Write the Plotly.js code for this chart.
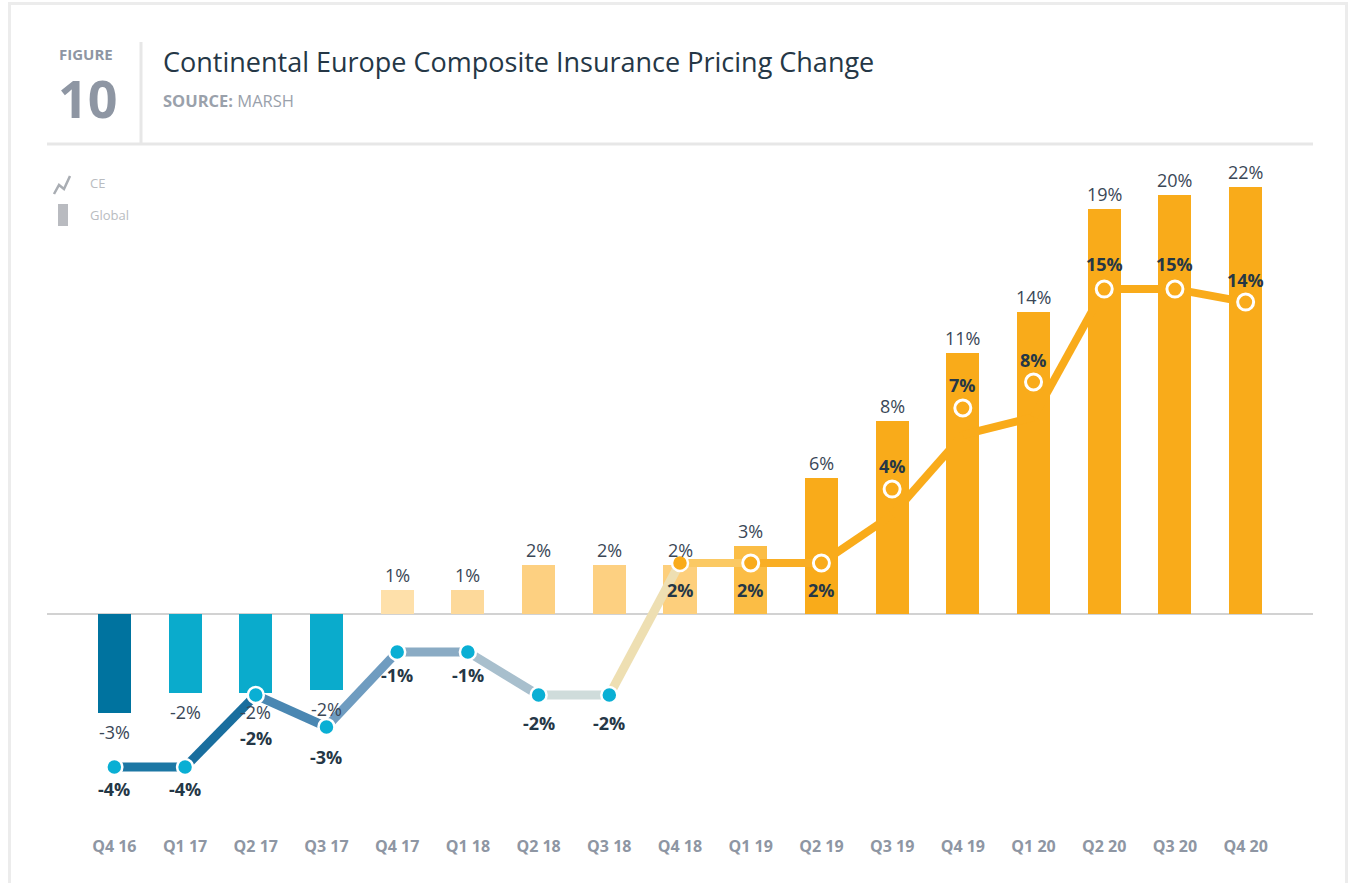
<!DOCTYPE html>
<html>
<head>
<meta charset="utf-8">
<script src="https://cdn.plot.ly/plotly-3.0.1.min.js"></script>
<style>
  html, body { margin: 0; padding: 0; background: #ffffff; }
  #frame { position: absolute; left: 8px; top: 2px; width: 1340px; height: 900px; border: 3px solid #ececec; box-sizing: border-box; }
  #chart { position: absolute; left: 0; top: 0; width: 1351px; height: 883px; }
</style>
</head>
<body>
<div id="frame"></div>
<div id="chart"></div>
<script>
// ---------------- data ----------------
const categories = ['Q4 16','Q1 17','Q2 17','Q3 17','Q4 17','Q1 18','Q2 18','Q3 18','Q4 18','Q1 19','Q2 19','Q3 19','Q4 19','Q1 20','Q2 20','Q3 20','Q4 20'];

// Global bars (heights as drawn) and their printed labels
const globalValues = [-5.10, -4.07, -4.07, -3.92, 1.24, 1.24, 2.53, 2.53, 2.53, 3.51, 7.01, 9.95, 13.45, 15.57, 20.88, 21.60, 22.01];
const globalLabels = ['-3%','-2%','-2%','-2%','1%','1%','2%','2%','2%','3%','6%','8%','11%','14%','19%','20%','22%'];

// CE line (as drawn), CE markers (as drawn) and their printed labels
const ceLineValues   = [-7.89, -7.89, -4.18, -5.82, -1.96, -1.96, -4.18, -4.18, 2.63, 2.63, 2.63, 5.10, 9.23, 10.15, 16.75, 16.75, 16.08];
const ceMarkerValues = [-7.89, -7.89, -4.18, -5.82, -1.96, -1.96, -4.18, -4.18, 2.63, 2.63, 2.63, 6.44, 10.62, 11.96, 16.75, 16.75, 16.08];
const ceLabels = ['-4%','-4%','-2%','-3%','-1%','-1%','-2%','-2%','2%','2%','2%','4%','7%','8%','15%','15%','14%'];

// ---------------- styles ----------------
const FONT = '"Open Sans", "Noto Sans", sans-serif';
const barColors = ['#00739f','#0aabcc','#0aabcc','#0aabcc','#fee0aa','#fdd99a','#fdd081','#fdd081','#fdcf7c','#fbbd45',
                   '#f9ab1a','#f9ab1a','#f9ab1a','#f9ab1a','#f9ab1a','#f9ab1a','#f9ab1a'];
const segColors = ['#1c77a4','#196e9e','#4a87b2','#6f9cc0','#8aabc4','#a8bfcd','#cfdcdb','#eedfb2','#fbc963',
                   '#f9ae24','#f9ab1a','#f9ab1a','#f9ab1a','#f9ab1a','#f9ab1a','#f9ab1a'];
// label centre offsets (px, positive = below the marker)
const ceLabelOffset = [22,22,43,30,23,23,28,28,27,27,27,-23,-23,-22,-25,-25,-22];

// ---------------- geometry helpers ----------------
const W = 1351, H = 883;
const M = {l: 79, r: 70, t: 150, b: 53};
const PW = W - M.l - M.r, PH = H - M.t - M.b;
const px = x => (x - M.l) / PW;
const py = y => (H - M.b - y) / PH;
const yMin = -11.134, yMax = 23.918;

// ---------------- traces ----------------
const traces = [];
traces.push({
  type: 'bar', x: categories, y: globalValues, width: 0.467,
  marker: {color: barColors, line: {width: 0}},
  hoverinfo: 'skip', showlegend: false
});
for (let i = 0; i < categories.length - 1; i++) {
  traces.push({
    type: 'scatter', mode: 'lines',
    x: [categories[i], categories[i + 1]],
    y: [ceLineValues[i], ceLineValues[i + 1]],
    line: {color: segColors[i], width: i < 8 ? 9 : 8},
    hoverinfo: 'skip', showlegend: false
  });
}
traces.push({
  type: 'scatter', mode: 'markers', x: categories, y: ceMarkerValues,
  marker: {
    color: ceMarkerValues.map((v, i) => i < 8 ? '#0aafd4' : '#f9ab1a'),
    size: 16,
    line: {color: '#ffffff', width: ceMarkerValues.map((v, i) => i < 9 ? 2.5 : 3)}
  },
  hoverinfo: 'skip', showlegend: false
});

// ---------------- annotations ----------------
const ann = [];
globalValues.forEach((v, i) => {
  ann.push({x: categories[i], y: v, xref: 'x', yref: 'y', text: globalLabels[i], showarrow: false,
    yanchor: 'middle', yshift: v >= 0 ? 15 : -19,
    font: {family: FONT, size: 18, color: '#3a4757'}});
});
ceMarkerValues.forEach((v, i) => {
  ann.push({x: categories[i], y: v, xref: 'x', yref: 'y', text: ceLabels[i], showarrow: false,
    yanchor: 'middle', yshift: -ceLabelOffset[i],
    font: {family: FONT, size: 18, color: '#253746', weight: 'bold'}});
});
// header texts
ann.push({xref: 'paper', yref: 'paper', x: px(86), y: py(54), xanchor: 'center', yanchor: 'middle', showarrow: false,
  text: 'FIGURE', font: {family: FONT, size: 15, color: '#8e96a3', weight: 'bold'}});
ann.push({xref: 'paper', yref: 'paper', x: px(87), y: py(97), xanchor: 'center', yanchor: 'middle', showarrow: false,
  text: '10', font: {family: FONT, size: 52, color: '#8e96a3', weight: 'bold'}});
ann.push({xref: 'paper', yref: 'paper', x: px(161), y: py(61), xanchor: 'left', yanchor: 'middle', showarrow: false,
  text: 'Continental Europe Composite Insurance Pricing Change', font: {family: FONT, size: 27, color: '#253746'}});
ann.push({xref: 'paper', yref: 'paper', x: px(161), y: py(100), xanchor: 'left', yanchor: 'middle', showarrow: false,
  text: '<b>SOURCE:</b> MARSH', font: {family: FONT, size: 16.5, color: '#9aa1ab'}});
// legend texts
ann.push({xref: 'paper', yref: 'paper', x: px(88), y: py(183), xanchor: 'left', yanchor: 'middle', showarrow: false,
  text: 'CE', font: {family: FONT, size: 13, color: '#b9bcc1'}});
ann.push({xref: 'paper', yref: 'paper', x: px(88), y: py(215), xanchor: 'left', yanchor: 'middle', showarrow: false,
  text: 'Global', font: {family: FONT, size: 13, color: '#b9bcc1'}});

// ---------------- shapes ----------------
const shapes = [
  // zero line
  {type: 'line', xref: 'paper', yref: 'y', x0: px(47), x1: px(1313), y0: 0, y1: 0, layer: 'below',
   line: {color: '#d2d2d2', width: 2}},
  // header horizontal rule
  {type: 'line', xref: 'paper', yref: 'paper', x0: px(47), x1: px(1313), y0: py(144), y1: py(144),
   line: {color: '#e7e7e7', width: 3}},
  // header vertical divider
  {type: 'line', xref: 'paper', yref: 'paper', x0: px(141), x1: px(141), y0: py(42), y1: py(143),
   line: {color: '#e7e7e7', width: 3}},
  // legend CE icon
  {type: 'path', xref: 'paper', yref: 'paper',
   path: `M ${px(54)},${py(194)} L ${px(59)},${py(185)} L ${px(64)},${py(189)} L ${px(70)},${py(176)}`,
   line: {color: '#a9adb3', width: 2.5}},
  // legend Global icon
  {type: 'rect', xref: 'paper', yref: 'paper', x0: px(58), x1: px(68), y0: py(204), y1: py(226),
   fillcolor: '#b9bbc0', line: {width: 0}}
];

const layout = {
  width: W, height: H,
  margin: M,
  paper_bgcolor: 'rgba(0,0,0,0)', plot_bgcolor: 'rgba(0,0,0,0)',
  font: {family: FONT},
  showlegend: false,
  bargap: 0,
  xaxis: {
    type: 'category', range: [-0.5, 16.5], showgrid: false, zeroline: false, showline: false,
    ticks: '', ticklabelstandoff: 5,
    tickfont: {family: FONT, size: 16, color: '#8e96a3', weight: 'bold'}, fixedrange: true
  },
  yaxis: {
    range: [yMin, yMax], showgrid: false, zeroline: false, showline: false, showticklabels: false,
    ticks: '', fixedrange: true
  },
  annotations: ann,
  shapes: shapes
};

Plotly.newPlot('chart', traces, layout, {displayModeBar: false, staticPlot: true});
</script>
</body>
</html>
